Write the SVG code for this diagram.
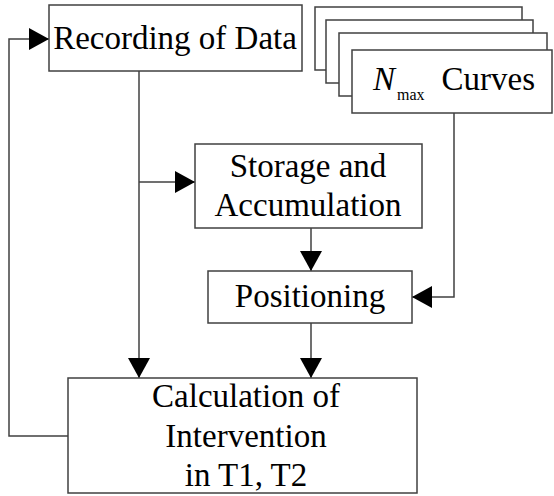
<svg xmlns="http://www.w3.org/2000/svg" width="554" height="496" viewBox="0 0 554 496">
<defs>
<style>
.box{fill:#fff;stroke:#404040;stroke-width:1.5}
.ln{fill:none;stroke:#404040;stroke-width:1.5}
.t{font-family:"Liberation Serif","Times New Roman",serif;font-size:33px;fill:#000}
.c{text-anchor:middle}
</style>
<marker id="ah" markerUnits="userSpaceOnUse" markerWidth="20" markerHeight="22" refX="20" refY="11" orient="auto">
<path d="M0,0 L20,11 L0,22 Z" fill="#000"/>
</marker>
</defs>
<rect width="554" height="496" fill="#fff"/>
<g id="connectors">
<path class="ln" d="M139,71 V378" marker-end="url(#ah)"/>
<path class="ln" d="M139,182 H195" marker-end="url(#ah)"/>
<path class="ln" d="M311,228 V271" marker-end="url(#ah)"/>
<path class="ln" d="M311,323 V378" marker-end="url(#ah)"/>
<path class="ln" d="M454,113 V297 H412" marker-end="url(#ah)"/>
<path class="ln" d="M68,436 H9 V39 H49" marker-end="url(#ah)"/>
</g>
<g id="recording">
<rect class="box" x="49" y="5" width="253" height="66"/>
<text class="t c" x="175" y="49">Recording of Data</text>
</g>
<g id="nmax">
<rect class="box" x="315" y="7" width="207" height="63"/>
<rect class="box" x="326" y="20" width="207" height="63"/>
<rect class="box" x="339" y="33" width="208" height="63"/>
<rect class="box" x="352" y="50" width="200" height="63"/>
<text class="t" x="373" y="90"><tspan font-style="italic">N</tspan><tspan font-size="16" dy="10" dx="2">max</tspan><tspan dy="-10" dx="17">Curves</tspan></text>
</g>
<g id="storage">
<rect class="box" x="195" y="144" width="227" height="84"/>
<text class="t c" x="308" y="177">Storage and</text>
<text class="t c" x="308" y="216">Accumulation</text>
</g>
<g id="positioning">
<rect class="box" x="208" y="271" width="204" height="52"/>
<text class="t c" x="310" y="307">Positioning</text>
</g>
<g id="calculation">
<rect class="box" x="68" y="378" width="349" height="115"/>
<text class="t c" x="246" y="407">Calculation of</text>
<text class="t c" x="246" y="447">Intervention</text>
<text class="t c" x="246" y="486">in T1, T2</text>
</g>
</svg>
